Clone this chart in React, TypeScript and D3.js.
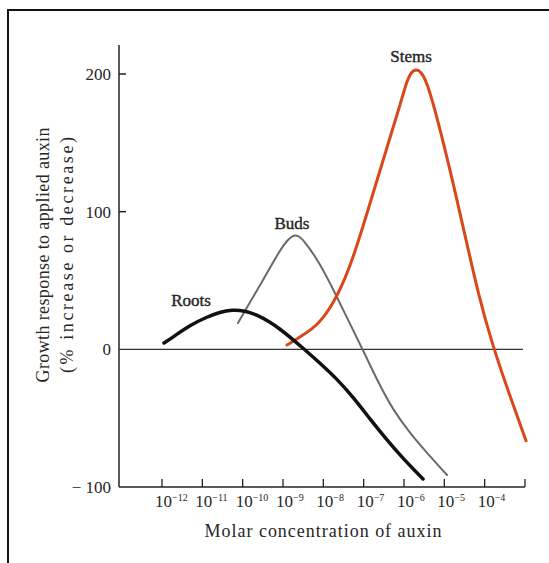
import React from "react";
import * as d3 from "d3";

// log10 of molar concentration (exponent) and growth response (%)
const rootsExp = [-11.95, -11.727, -11.306, -10.884, -10.562, -10.264, -9.942, -9.644, -9.322, -9.074, -8.826, -8.504, -8.083, -7.661, -7.264, -6.843, -6.421, -6.024, -5.528];
const rootsResp = [4.6, 8.9, 17.6, 23.5, 27.1, 28.7, 28.0, 25.0, 19.8, 14.7, 8.9, 0.9, -10.0, -21.6, -34.6, -50.6, -65.9, -79.3, -94.2];

const budsExp = [-10.116, -9.818, -9.52, -9.074, -8.901, -8.752, -8.628, -8.504, -8.083, -7.661, -7.388, -7.016, -6.669, -6.273, -5.851, -5.429, -4.933];
const budsResp = [19.1, 34.4, 48.9, 72.2, 79.0, 83.0, 82.6, 80.0, 62.7, 38.0, 21.3, -0.5, -22.3, -44.1, -60.8, -75.3, -91.3];

const stemsExp = [-8.901, -8.578, -8.281, -8.029, -7.658, -7.286, -6.84, -6.418, -6.096, -5.946, -5.826, -5.702, -5.578, -5.429, -5.181, -4.809, -4.462, -4.14, -3.842, -3.446, -2.974];
const stemsResp = [3.1, 8.9, 14.7, 21.3, 38.0, 63.4, 106.3, 147.0, 177.5, 193.5, 201.5, 203.5, 201.8, 194.0, 168.8, 124.5, 79.5, 38.0, 6.8, -28.1, -66.4];

const decadeExps = [-12, -11, -10, -9, -8, -7, -6, -5, -4, -3];
const decadeSup = ["\u221212", "\u221211", "\u221210", "\u22129", "\u22128", "\u22127", "\u22126", "\u22125", "\u22124", ""];

const yTicks = [200, 100, 0, -100];
const yTickLabels = ["200", "100", "0", "\u2212 100"];

const FONT = "'Liberation Serif', 'Times New Roman', serif";

export default function App() {
  const x = d3.scaleLog().domain([1e-12, 1e-3]).range([162, 525]);
  const y = d3.scaleLinear().domain([-100, 200]).range([487, 74]);

  const mk = (ex: number[], ys: number[]) =>
    d3
      .line<number>()
      .x((_, i) => x(Math.pow(10, ex[i])))
      .y((_, i) => y(ys[i]))
      .curve(d3.curveBasis)(ys) as string;

  const axisColor = "#222";
  const textColor = "#262626";
  const x0 = 119;

  return (
    <svg
      width={549}
      height={563}
      style={{ position: "absolute", left: 0, top: 0, background: "#fff" }}
      fontFamily={FONT}
    >
      <rect x={8} y={10} width={600} height={600} fill="none" stroke="#111" strokeWidth={2} />

      {/* axes */}
      <line x1={x0} y1={y(-100)} x2={x0} y2={45} stroke={axisColor} strokeWidth={1.5} />
      <line x1={x0} y1={y(-100)} x2={525} y2={y(-100)} stroke={axisColor} strokeWidth={1.5} />
      <line x1={x0} y1={y(0)} x2={523} y2={y(0)} stroke="#333" strokeWidth={1.3} />

      {yTicks.map((t, i) => (
        <g key={t}>
          {t > 0 && <line x1={x0} x2={x0 + 7} y1={y(t)} y2={y(t)} stroke={axisColor} strokeWidth={1.5} />}
          <text x={111} y={y(t) + 6} textAnchor="end" fontSize={17} fill={textColor}>
            {yTickLabels[i]}
          </text>
        </g>
      ))}

      {decadeExps.map((e, i) => {
        const px = x(Math.pow(10, e));
        return (
          <g key={e}>
            <line x1={px} x2={px} y1={y(-100)} y2={y(-100) - 8} stroke={axisColor} strokeWidth={1.3} />
            {decadeSup[i] && (
              <text x={px - 7} y={507} fontSize={17} fill={textColor}>
                10
                <tspan dy={-6} fontSize={10}>
                  {decadeSup[i]}
                </tspan>
              </text>
            )}
          </g>
        );
      })}

      <text x={323} y={537} textAnchor="middle" fontSize={18} fill={textColor} textLength={237} lengthAdjust="spacing">
        Molar concentration of auxin
      </text>

      <text
        transform="translate(49,255) rotate(-90)"
        textAnchor="middle"
        fontSize={18}
        fill={textColor}
        textLength={255}
        lengthAdjust="spacing"
      >
        Growth response to applied auxin
      </text>
      <text
        transform="translate(73,255) rotate(-90)"
        textAnchor="middle"
        fontSize={18}
        fill={textColor}
        textLength={236}
        lengthAdjust="spacing"
      >
        (% increase or decrease)
      </text>

      {/* curves */}
      <path d={mk(budsExp, budsResp)} fill="none" stroke="#6a6a6a" strokeWidth={2} strokeLinecap="round" />
      <path d={mk(stemsExp, stemsResp)} fill="none" stroke="#d9471b" strokeWidth={3} strokeLinecap="round" />
      <path d={mk(rootsExp, rootsResp)} fill="none" stroke="#111" strokeWidth={3.5} strokeLinecap="round" />

      {/* series labels */}
      <g fontSize={17} fill={textColor} stroke={textColor} strokeWidth={0.4} textAnchor="middle">
        <text x={411} y={62}>Stems</text>
        <text x={292} y={229}>Buds</text>
        <text x={191} y={306}>Roots</text>
      </g>
    </svg>
  );
}
